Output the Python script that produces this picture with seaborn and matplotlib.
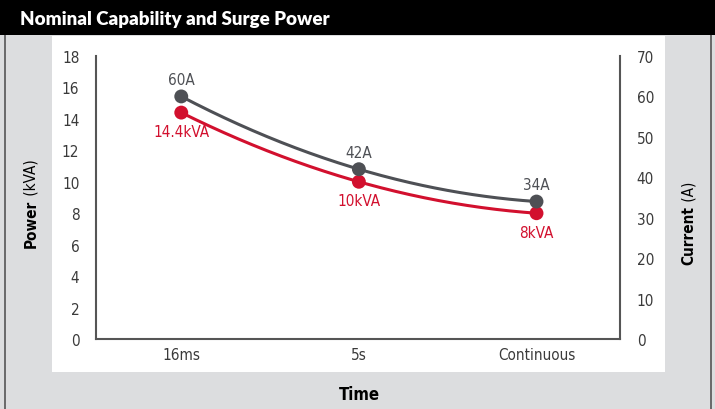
import matplotlib
matplotlib.use("Agg")
import matplotlib.pyplot as plt
import matplotlib.patches as mpatches
import matplotlib.lines as mlines
import seaborn as sns
import numpy as np
import pandas as pd

# data
periods = ["16ms", "5s", "Continuous"]
power_kva = [14.4, 10, 8]
current_a = [60, 42, 34]
power_labels = ["14.4kVA", "10kVA", "8kVA"]
current_labels = ["60A", "42A", "34A"]

RED = "#d2102e"
GREY = "#4e5055"
PANEL = "#dcdddf"
TXT = "#3a3a3a"

sns.set_style("white")
plt.rcParams["font.family"] = ["DejaVu Sans"]
plt.rcParams["font.stretch"] = "condensed"

fig = plt.figure(figsize=(7.15, 4.10), dpi=100, facecolor=PANEL)
W, H = 715, 410

def frac_rect(x0, y0, x1, y1, **kw):
    return mpatches.Rectangle((x0 / W, 1 - y1 / H), (x1 - x0) / W, (y1 - y0) / H,
                              transform=fig.transFigure, **kw)

# white plot panel, black title bar, thin frame
fig.patches.append(frac_rect(52, 37, 665, 373, facecolor="white", edgecolor="none", zorder=-5))
fig.patches.append(frac_rect(0, 0, 715, 36, facecolor="black", edgecolor="none", zorder=-4))
for xp in (5, 711):
    fig.lines.append(mlines.Line2D([xp / W, xp / W], [0, 1 - 36 / H], transform=fig.transFigure,
                                   color="#555555", lw=1.2, zorder=-4))
fig.text(20 / W, 1 - 19 / H, "Nominal Capability and Surge Power", color="white",
         fontsize=13.5, fontweight="heavy", family=["Lato", "DejaVu Sans"],
         fontstretch="normal", va="center", ha="left")

ax = fig.add_axes([96 / W, 1 - 340 / H, (620 - 96) / W, (340 - 57) / H])
ax.set_facecolor("none")
ax2 = ax.twinx()
ax.set_zorder(2)
ax2.set_zorder(3)
ax2.set_facecolor("none")

xs = np.arange(len(periods))
xf = np.linspace(0, len(periods) - 1, 200)

df = pd.DataFrame({"x": xs, "power": power_kva, "current": current_a})
smooth = pd.DataFrame({
    "x": xf,
    "power": np.polyval(np.polyfit(xs, power_kva, 2), xf),
    "current": np.polyval(np.polyfit(xs, current_a, 2), xf),
})

sns.lineplot(data=smooth, x="x", y="power", ax=ax, color=RED, lw=2.2, zorder=3)
sns.scatterplot(data=df, x="x", y="power", ax=ax, color=RED, s=100, edgecolor="none", zorder=4)
sns.lineplot(data=smooth, x="x", y="current", ax=ax2, color=GREY, lw=2.2, zorder=3)
sns.scatterplot(data=df, x="x", y="current", ax=ax2, color=GREY, s=100, edgecolor="none", zorder=4)

for x, y, lab in zip(xs, power_kva, power_labels):
    ax.annotate(lab, (x, y), xytext=(0, -19), textcoords="offset pixels", ha="center",
                va="center", color=RED, fontsize=11)
for x, y, lab in zip(xs, current_a, current_labels):
    ax2.annotate(lab, (x, y), xytext=(0, 17), textcoords="offset pixels", ha="center",
                 va="center", color=GREY, fontsize=11)

ax.set_xlim(-0.48, 2.47)
ax.set_ylim(0, 18)
ax2.set_ylim(0, 70)
ax.set_xticks(xs)
ax.set_xticklabels(periods)
ax.set_yticks(np.arange(0, 19, 2))
ax2.set_yticks(np.arange(0, 71, 10))
ax.set_yticks([18], minor=True)
ax2.set_yticks([70], minor=True)

for a in (ax, ax2):
    for s in a.spines.values():
        s.set_visible(False)
    a.set_xlabel("")
    a.set_ylabel("")
    a.tick_params(which="major", length=0, labelsize=11, labelcolor=TXT)
    a.tick_params(which="minor", length=7, direction="inout", width=1.4, color="#555555")
ax.tick_params(axis="y", pad=12)
ax2.tick_params(axis="y", pad=12)
ax.tick_params(axis="x", pad=6)
ax.spines["left"].set_visible(True)
ax.spines["bottom"].set_visible(True)
ax2.spines["right"].set_visible(True)
for s in (ax.spines["left"], ax.spines["bottom"], ax2.spines["right"]):
    s.set_color("#555555")
    s.set_linewidth(1.5)

# axis titles with bold first word
fig.text(31 / W, 1 - 200 / H, "Power", rotation=90, fontsize=11, fontweight="bold",
         color="black", ha="center", va="top")
fig.text(31 / W, 1 - 200 / H, " (kVA)", rotation=90, fontsize=11, color="black",
         ha="center", va="bottom")
fig.text(689 / W, 1 - 206 / H, "Current", rotation=90, fontsize=11, fontweight="bold",
         color="black", ha="center", va="top")
fig.text(689 / W, 1 - 206 / H, " (A)", rotation=90, fontsize=11, color="black",
         ha="center", va="bottom")
fig.text(359 / W, 1 - 395 / H, "Time", fontsize=12, fontweight="bold", color="black",
         ha="center", va="center")

fig.savefig("out.png", dpi=100, facecolor=PANEL)
